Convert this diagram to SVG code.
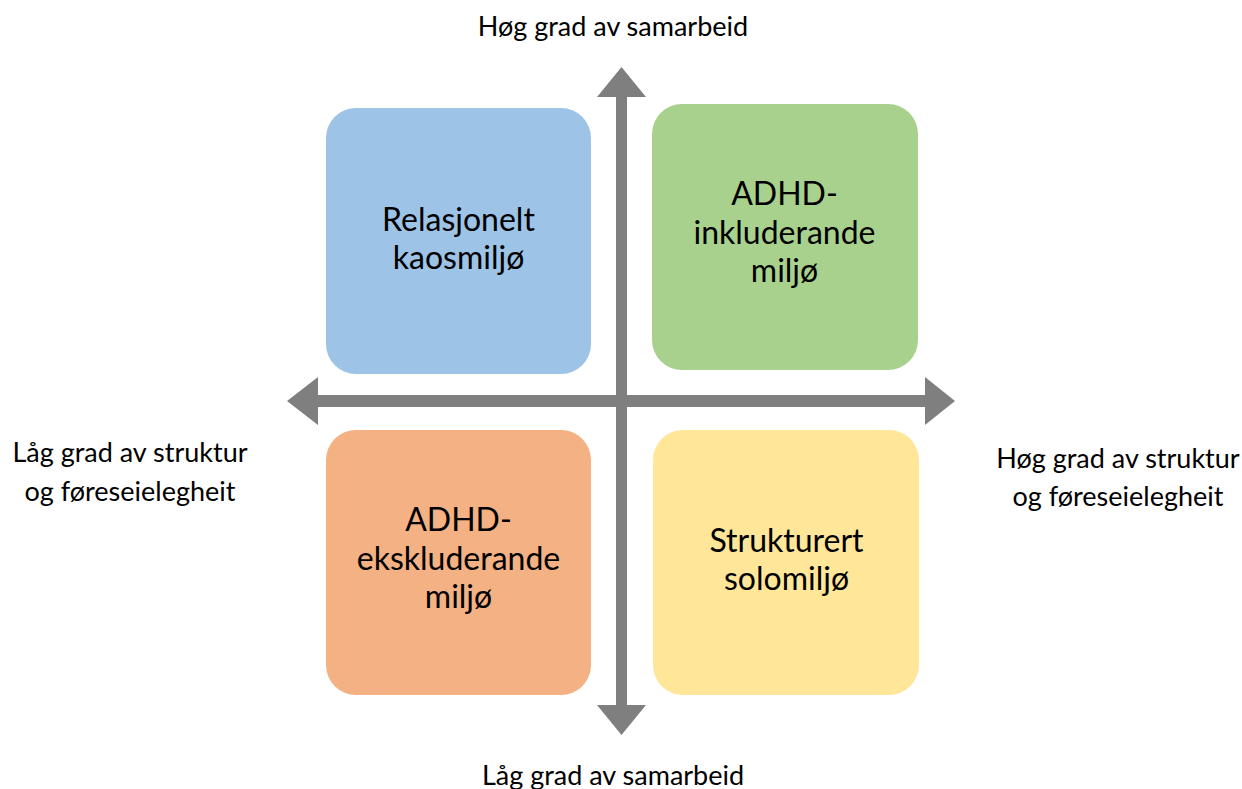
<svg xmlns="http://www.w3.org/2000/svg" width="1242" height="789" viewBox="0 0 1242 789">
<style>
.box{stroke:none}
.bt{font-family:Lato,"Liberation Sans",sans-serif;font-size:32px;fill:#000;text-anchor:middle}
.lt{font-family:Lato,"Liberation Sans",sans-serif;font-size:27px;fill:#000;text-anchor:middle}
.ax{fill:#7f7f7f}
</style>
<rect width="1242" height="789" fill="#fff"/>
<g id="node-blue"><rect class="box" x="326" y="108" width="265" height="266" rx="30" fill="#9dc3e6"/>
<text class="bt" x="458.5" y="230.5">Relasjonelt</text><text class="bt" x="458.5" y="269">kaosmiljø</text></g>
<g id="node-green"><rect class="box" x="652" y="104" width="266" height="266" rx="30" fill="#a9d18e"/>
<text class="bt" x="784.5" y="205">ADHD-</text><text class="bt" x="784.5" y="243.5">inkluderande</text><text class="bt" x="784.5" y="282">miljø</text></g>
<g id="node-orange"><rect class="box" x="326" y="430" width="265" height="265" rx="30" fill="#f4b183"/>
<text class="bt" x="458.5" y="531">ADHD-</text><text class="bt" x="458.5" y="569.5">ekskluderande</text><text class="bt" x="458.5" y="608">miljø</text></g>
<g id="node-yellow"><rect class="box" x="653" y="430" width="266" height="265" rx="30" fill="#ffe699"/>
<text class="bt" x="786.5" y="551.5">Strukturert</text><text class="bt" x="786.5" y="590">solomiljø</text></g>
<g id="connectors">
<polygon class="ax" points="621.5,67 646,97 627,97 627,705 646,705 621.5,735 597,705 616,705 616,97 597,97"/>
<polygon class="ax" points="287,401 318,377 318,395 925,395 925,377 955,401 925,425 925,407 318,407 318,425"/>
</g>
<g id="labels">
<text class="lt" x="613" y="36">Høg grad av samarbeid</text>
<text class="lt" x="613" y="785">Låg grad av samarbeid</text>
<text class="lt" x="130" y="462">Låg grad av struktur</text>
<text class="lt" x="130" y="501">og føreseielegheit</text>
<text class="lt" x="1118" y="468">Høg grad av struktur</text>
<text class="lt" x="1118" y="506">og føreseielegheit</text>
</g>
</svg>
